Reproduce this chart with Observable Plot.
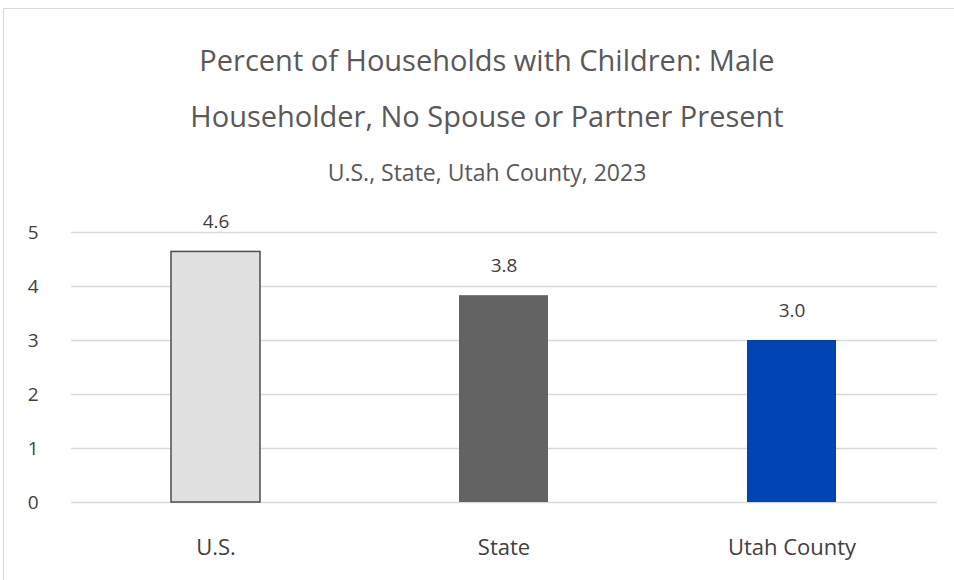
<!DOCTYPE html>
<html><head><meta charset="utf-8">
<script src="https://cdn.jsdelivr.net/npm/d3@7"></script>
<script src="https://cdn.jsdelivr.net/npm/@observablehq/plot@0.6"></script>
<style>
body{margin:0;background:#fff;font-family:"Open Sans",sans-serif;}
#wrap{position:relative;width:954px;height:580px;overflow:hidden;}
#frame{position:absolute;left:3px;top:8px;width:980px;height:600px;border:1.5px solid #d9d9d9;box-sizing:border-box;}
.t{position:absolute;left:10px;width:954px;text-align:center;color:#595959;white-space:nowrap;}
#plot{position:absolute;left:0;top:190px;}
</style></head><body>
<div id="wrap">
<div id="frame"></div>
<div class="t" id="t1" style="top:40px;font-size:29px;">Percent of Households with Children: Male</div>
<div class="t" id="t2" style="top:96px;font-size:29px;">Householder, No Spouse or Partner Present</div>
<div class="t" id="t3" style="top:156px;font-size:23px;">U.S., State, Utah County, 2023</div>
<div id="plot"></div>
</div>
<script>
const categories = ["U.S.", "State", "Utah County"];
const values = [4.64, 3.83, 3.0];
const labels = ["4.6", "3.8", "3.0"];
const colors = ["#e0e0e0", "#636363", "#0043b3"];
const strokes = ["#4d4d4d", "none", "none"];
const yTicks = [0, 1, 2, 3, 4, 5];

const data = categories.map((c, i) => ({category: c, value: values[i], label: labels[i], fill: colors[i], stroke: strokes[i]}));

const chart = Plot.plot({
  width: 954,
  height: 390,
  marginTop: 42,
  marginBottom: 78,
  marginLeft: 71,
  marginRight: 17,
  style: {fontFamily: "Open Sans, sans-serif", background: "transparent"},
  x: {domain: categories, paddingInner: 0.69, paddingOuter: 0.345, label: null},
  y: {domain: [0, 5], label: null},
  marks: [
    Plot.ruleY(yTicks, {stroke: "#d9d9d9", strokeWidth: 1.5, strokeOpacity: 1}),
    Plot.barY(data, {x: "category", y: "value", fill: d => d.fill, stroke: d => d.stroke, strokeWidth: 1.5}),
    Plot.text(data, {x: "category", y: "value", text: "label", dy: -30, fill: "#404040", fontSize: 19}),
    Plot.axisY({ticks: yTicks, tickFormat: "d", tickSize: 0, tickPadding: 33, fontSize: 19, color: "#404040", label: null}),
    Plot.axisX({tickSize: 0, tickPadding: 37, fontSize: 22, color: "#404040", label: null})
  ]
});
document.getElementById("plot").appendChild(chart);
</script>
</body></html>
